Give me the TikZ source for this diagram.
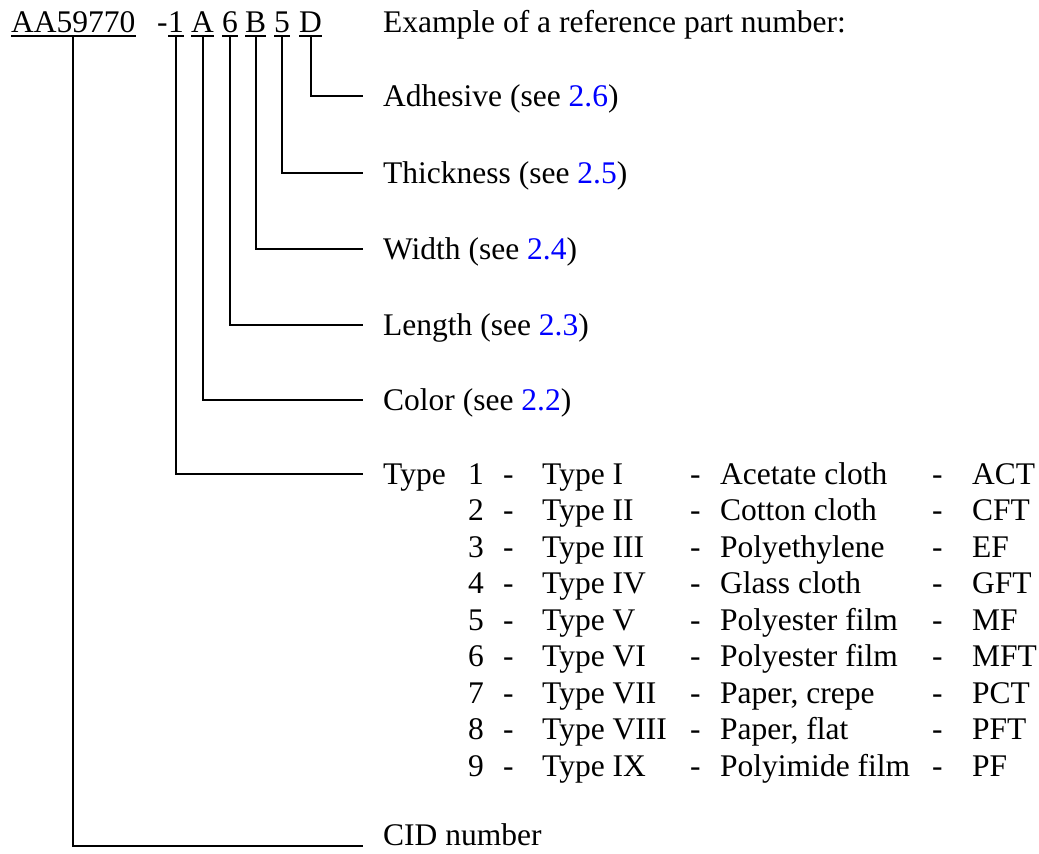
\documentclass[tikz,border=0pt]{standalone}
\usepackage{fontspec}
\setmainfont{Liberation Serif}
\usetikzlibrary{positioning}
\definecolor{linkblue}{HTML}{0000FF}
\newcommand{\secref}[1]{\textcolor{linkblue}{#1}}

\begin{document}
\begin{tikzpicture}[
    x=1pt, y=-1pt,
    font=\fontsize{31.5}{37}\selectfont,
    code/.style={inner sep=0pt, anchor=base west, text depth=4pt},
    lbl/.style={inner xsep=20pt, inner ysep=0pt, anchor=west,
                text height=23pt, text depth=3pt},
    cell/.style={inner sep=0pt, anchor=base west},
    ln/.style={line width=1.9pt},
  ]
  \useasboundingbox (0,0) rectangle (1039,854);

  % reference part number
  \node[code] (cidno) at (11,32) {AA59770};
  \node[code] (hyph) at (157,32) {-};
  \node[code] (tp) at (168,32) {1};
  \node[code] (col) at (191,32) {A};
  \node[code] (len) at (222,32) {6};
  \node[code] (wid) at (245,32) {B};
  \node[code] (thk) at (274,32) {5};
  \node[code] (adh) at (299,32) {D};
  \node[cell] (exmp) at (383,32) {Example of a reference part number:};

  \foreach \c in {cidno, tp, col, len, wid, thk, adh}
    \draw[ln] (\c.south west) -- (\c.south east);

  % labels
  \node[lbl] (adhlbl) at (363,96)  {Adhesive (see \secref{2.6})};
  \node[lbl] (thklbl) at (363,173) {Thickness (see \secref{2.5})};
  \node[lbl] (widlbl) at (363,249) {Width (see \secref{2.4})};
  \node[lbl] (lenlbl) at (363,325) {Length (see \secref{2.3})};
  \node[lbl] (collbl) at (363,400) {Color (see \secref{2.2})};
  \node[lbl] (tplbl)  at (363,474) {Type};
  \node[lbl, anchor=south west, text depth=0pt] (cidlbl) at (363,846) {CID number};

  \draw[ln] (adh.south) |- (adhlbl.west);
  \draw[ln] (thk.south) |- (thklbl.west);
  \draw[ln] (wid.south) |- (widlbl.west);
  \draw[ln] (len.south) |- (lenlbl.west);
  \draw[ln] (col.south) |- (collbl.west);
  \draw[ln] (tp.south) |- (tplbl.west);
  \draw[ln] (cidno.south) |- (cidlbl.south west);

  % type table
  \foreach \num/\rn/\mat/\abbr [count=\i from 0] in {
      1/I/Acetate cloth/ACT, 2/II/Cotton cloth/CFT, 3/III/Polyethylene/EF,
      4/IV/Glass cloth/GFT, 5/V/Polyester film/MF, 6/VI/Polyester film/MFT,
      7/VII/{Paper, crepe}/PCT, 8/VIII/{Paper, flat}/PFT,
      9/IX/Polyimide film/PF}{
    \pgfmathsetmacro{\rowy}{484+36.5*\i}
    \node[cell] (num\i) at (468,\rowy) {\num};
    \node[cell] (da\i) at (503,\rowy) {-};
    \node[cell] (tn\i) at (542,\rowy) {Type \rn};
    \node[cell] (db\i) at (690,\rowy) {-};
    \node[cell] (mat\i) at (720,\rowy) {\mat};
    \node[cell] (dc\i) at (932,\rowy) {-};
    \node[cell] (abbr\i) at (972,\rowy) {\abbr};
  }
\end{tikzpicture}
\end{document}
